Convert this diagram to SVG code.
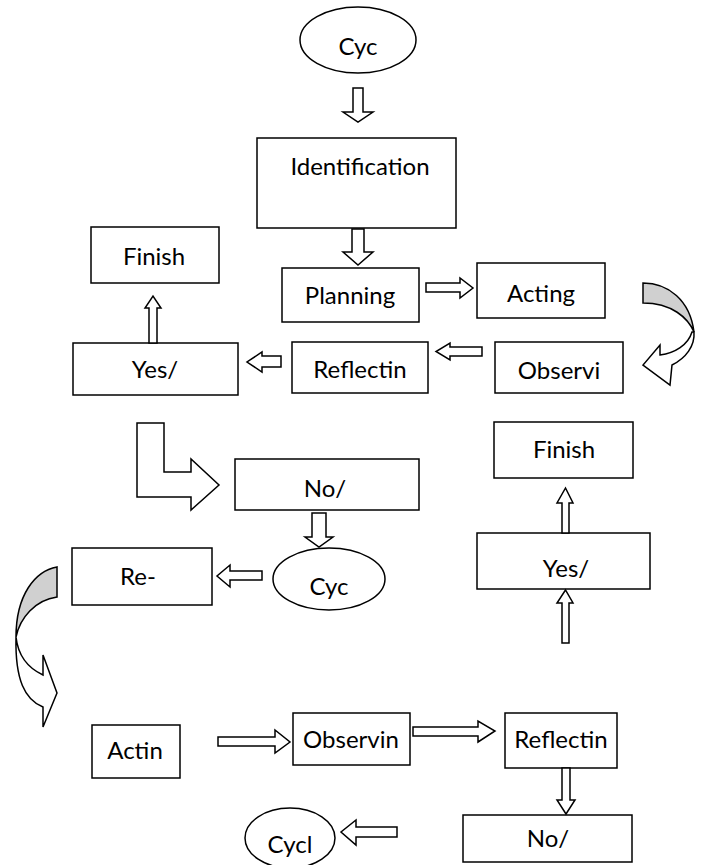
<svg xmlns="http://www.w3.org/2000/svg" width="702" height="865" viewBox="0 0 702 865">
<style>
.box{fill:#fff;stroke:#000;stroke-width:1.5}
.arr{fill:#fff;stroke:#000;stroke-width:1.5;stroke-linejoin:miter}
.gray{fill:#d0d0d0;stroke:#000;stroke-width:1.5}
text{font-family:Lato,"Open Sans",sans-serif;font-size:24px;fill:#000;text-anchor:middle}
</style>
<rect width="702" height="865" fill="#fff"/>
<g id="cyc1"><ellipse class="box" cx="358" cy="40" rx="58" ry="33"/><text x="358" y="55">Cyc</text></g>
<g id="identification"><rect class="box" x="257" y="138" width="199" height="90"/><text x="360" y="175">Identification</text></g>
<g id="planning"><rect class="box" x="282" y="268" width="137" height="54"/><text x="350" y="304">Planning</text></g>
<g id="acting"><rect class="box" x="477" y="263" width="128" height="55"/><text x="541" y="302">Acting</text></g>
<g id="observi"><rect class="box" x="495" y="342" width="128" height="51"/><text x="559" y="379">Observi</text></g>
<g id="reflectin1"><rect class="box" x="292" y="342" width="136" height="51"/><text x="360" y="378">Reflectin</text></g>
<g id="yes1"><rect class="box" x="73" y="343" width="165" height="52"/><text x="155" y="378">Yes/</text></g>
<g id="finish1"><rect class="box" x="91" y="227" width="128" height="56"/><text x="154" y="265">Finish</text></g>
<g id="no1"><rect class="box" x="235" y="459" width="184" height="51"/><text x="325" y="497">No/</text></g>
<g id="cyc2"><ellipse class="box" cx="329" cy="579" rx="56" ry="31"/><text x="329" y="595">Cyc</text></g>
<g id="re"><rect class="box" x="72" y="548" width="140" height="57"/><text x="138" y="585">Re-</text></g>
<g id="finish2"><rect class="box" x="494" y="422" width="139" height="56"/><text x="564" y="458">Finish</text></g>
<g id="yes2"><rect class="box" x="477" y="533" width="173" height="56"/><text x="566" y="577">Yes/</text></g>
<g id="actin"><rect class="box" x="92" y="725" width="88" height="53"/><text x="135" y="759">Actin</text></g>
<g id="observin"><rect class="box" x="293" y="713" width="117" height="52"/><text x="351" y="748">Observin</text></g>
<g id="reflectin2"><rect class="box" x="505" y="713" width="112" height="55"/><text x="561" y="748">Reflectin</text></g>
<g id="no2"><rect class="box" x="463" y="815" width="169" height="47"/><text x="548" y="847">No/</text></g>
<g id="cycl"><ellipse class="box" cx="290" cy="838" rx="45" ry="30"/><text x="290" y="853">Cycl</text></g>
<g id="connectors">
<polygon class="arr" points="353,88 363,88 363,112 373,112 358,122 343,112 353,112"/>
<polygon class="arr" points="352,229 364,229 364,252 373,252 358,265 343,252 352,252"/>
<polygon class="arr" points="426,283 460,283 460,278 473,288 460,298 460,292 426,292"/>
<polygon class="arr" points="482,347 482,356 450,356 450,360 436,351.5 450,343 450,347"/>
<polygon class="arr" points="281,356 281,367 262,367 262,372 247,362 262,352 262,356"/>
<polygon class="arr" points="149,343 157,343 157,308 161,308 153,296 145,308 149,308"/>
<polygon class="arr" points="137,423 164,423 164,472 191,472 191,459 219,485 191,510 191,497 137,497"/>
<polygon class="arr" points="312,513 326,513 326,537 333,537 319,547 305,537 312,537"/>
<polygon class="arr" points="262,571 262,580 230,580 230,587 217,576 230,565 230,571"/>
<polygon class="arr" points="562,533 569,533 569,503 573,503 565.5,488 557,503 562,503"/>
<polygon class="arr" points="562,643 569,643 569,603 573,603 565.5,590 557,603 562,603"/>
<polygon class="arr" points="218,737 275,737 275,730 290,742 275,753 275,746 218,746"/>
<polygon class="arr" points="413,727 478,727 478,721 495,731 478,742 478,736 413,736"/>
<polygon class="arr" points="562,768 570,768 570,800 575,800 566,814 557,800 562,800"/>
<polygon class="arr" points="397,827 397,837 356,837 356,845 341,832 356,820 356,827"/>
<path class="gray" d="M643,283 C668,283 690,300 694,332 C688,318 672,303 643,303 Z"/>
<path class="arr" d="M692,332 C688,345 675,353 660,355 L660,345 L643,365 L670,385 L672,365 C686,358 695,346 694,332 Z"/>
<path class="gray" d="M57,567 C35,571 16,595 16,637 C20,618 35,600 57,597 Z"/>
<path class="arr" d="M16,637 C18,655 28,668 43,675 L43,655 L57,693 L43,727 L43,707 C25,700 15,680 16,637 Z"/>
</g>
</svg>
